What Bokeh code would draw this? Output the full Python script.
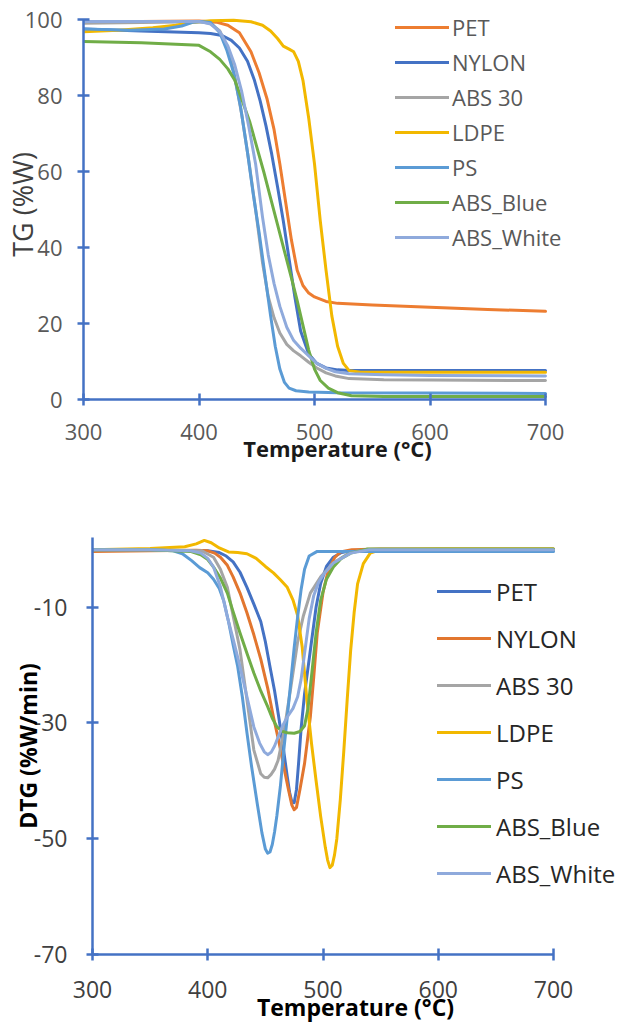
from bokeh.plotting import figure
from bokeh.models import Range1d, Legend, LegendItem, FixedTicker
from bokeh.layouts import column
from bokeh.embed import file_html
from bokeh.resources import INLINE

FONT = "Open Sans"

# ---------------- TG data ----------------
tg_names = ["PET", "NYLON", "ABS 30", "LDPE", "PS", "ABS_Blue", "ABS_White"]

tg_pet_t = [300, 350, 400, 415, 425, 435, 445, 452, 459, 465, 470, 475, 480, 485, 490, 495, 500, 510, 520, 550, 600, 650, 700]
tg_pet_v = [99.3, 99.5, 99.6, 99.3, 98.5, 96.5, 91.5, 86, 79, 71, 62, 52, 42, 34, 30, 28, 27, 25.8, 25.3, 24.9, 24.3, 23.7, 23.2]

tg_nylon_t = [300, 350, 400, 410, 420, 428, 435, 442, 448, 453, 458, 463, 468, 473, 478, 483, 488, 495, 502, 510, 520, 530, 550, 600, 700]
tg_nylon_v = [97.5, 97, 96.5, 96.3, 95.8, 94.5, 92.5, 89, 84, 78.5, 72, 64.5, 56, 47, 37, 27, 18, 12, 9.5, 8.3, 7.8, 7.6, 7.6, 7.6, 7.6]

tg_abs30_t = [300, 350, 400, 410, 418, 425, 431, 437, 443, 449, 455, 460, 465, 470, 476, 482, 488, 495, 502, 510, 518, 530, 560, 600, 700]
tg_abs30_v = [99.0, 99.2, 99.4, 99.0, 97, 92.5, 85, 75, 63, 50, 36, 27, 21.5, 17.5, 14.5, 12.8, 11.5, 9.8, 8.3, 7, 6.2, 5.5, 5.2, 5.1, 5.0]

tg_ldpe_t = [300, 330, 360, 380, 395, 410, 430, 445, 455, 462, 468, 473, 478, 482, 486, 490, 495, 500, 505, 510, 515, 520, 525, 530, 540, 600, 700]
tg_ldpe_v = [96.8, 97.2, 97.8, 98.5, 99.3, 99.7, 99.8, 99.4, 98.5, 97, 95, 93, 92.2, 91.5, 89, 84, 74, 62, 47, 34, 22, 14, 9.5, 7.6, 7.2, 7.2, 7.2]

tg_ps_t = [300, 340, 370, 385, 395, 402, 410, 418, 424, 430, 436, 442, 447, 452, 457, 462, 466, 470, 474, 478, 484, 495, 520, 600, 700]
tg_ps_v = [97.5, 97.2, 97.5, 98.3, 99.3, 99.5, 99.2, 96.5, 92, 86, 77, 65, 54, 44, 33, 22, 14, 8, 4.5, 3, 2.3, 2, 1.8, 1.7, 1.6]

tg_blue_t = [300, 350, 400, 410, 418, 425, 431, 437, 444, 450, 456, 462, 468, 474, 480, 485, 490, 495, 500, 505, 512, 520, 532, 560, 700]
tg_blue_v = [94.2, 93.9, 93.2, 91.5, 89.5, 87, 84, 79, 73, 66.5, 60, 53, 46, 39, 32, 26, 19.5, 13, 8, 5, 3, 1.8, 1.0, 0.8, 0.8]

tg_white_t = [300, 350, 400, 410, 418, 425, 431, 437, 443, 449, 455, 460, 465, 470, 476, 482, 488, 495, 502, 510, 518, 530, 560, 600, 700]
tg_white_v = [99.5, 99.5, 99.5, 98.8, 96.8, 93, 88, 81, 72, 62, 48, 38, 30.5, 24.5, 19, 15.5, 13.5, 11.5, 9.5, 8.2, 7.3, 6.8, 6.5, 6.3, 6.2]

tg_colors = ["#ED7D31", "#4472C4", "#A5A5A5", "#F2B800", "#5B9BD5", "#70AD47", "#8FAADC"]
tg_ticks_x = [300, 400, 500, 600, 700]
tg_ticks_y = [0, 20, 40, 60, 80, 100]

# ---------------- DTG data ----------------
dtg_names = ["PET", "NYLON", "ABS 30", "LDPE", "PS", "ABS_Blue", "ABS_White"]

dtg_pet_t = [300, 350, 400, 410, 416, 422, 428, 434, 440, 446, 450, 454, 458, 462, 466, 469, 471, 473, 475, 477, 479, 481, 484, 489, 494, 498, 503, 509, 516, 525, 550, 600, 700]
dtg_pet_v = [-0.2, -0.2, -0.3, -0.6, -1.2, -2.2, -4, -6.6, -9.5, -12.5, -16, -20.3, -24.5, -29.5, -35, -39.3, -42, -43.7, -43.8, -41.5, -36.5, -31, -25, -17.5, -10, -5.9, -3, -1.4, -0.6, -0.3, -0.2, -0.2, -0.2]

dtg_nylon_t = [300, 350, 390, 400, 406, 411, 417, 422, 428, 434, 440, 446, 452, 457, 462, 466, 470, 473, 475, 477, 480, 484, 489, 492, 495, 500, 504, 510, 515, 525, 550, 700]
dtg_nylon_v = [-0.4, -0.3, -0.2, -0.3, -0.7, -1.4, -2.8, -4.8, -7.6, -11, -14.8, -19, -24, -29, -33.5, -37.6, -41.5, -44.2, -45, -44.6, -41.5, -37, -29, -22, -14.5, -7.5, -4.1, -1.5, -0.5, -0.1, 0, 0]

dtg_abs30_t = [300, 350, 395, 405, 411, 417, 422, 428, 434, 440, 446, 449, 452, 455, 458, 461, 466, 472, 478, 483, 489, 498, 509, 524, 540, 700]
dtg_abs30_v = [-0.1, -0.1, -0.3, -1.4, -3.5, -6.6, -11.5, -17.4, -26, -34.7, -38.8, -39.4, -39.5, -38.9, -38, -36.5, -31.7, -24, -16, -11.5, -7.6, -4.8, -2.4, -0.5, -0.1, -0.1]

dtg_ldpe_t = [300, 350, 380, 390, 397, 403, 410, 418, 426, 434, 442, 450, 457, 463, 469, 474, 478, 482, 486, 490, 494, 498, 502, 504, 506, 508, 510, 512, 515, 518, 521, 524, 527, 530, 535, 541, 550, 600, 700]
dtg_ldpe_v = [-0.1, 0.1, 0.4, 0.9, 1.5, 1.1, 0.2, -0.5, -0.6, -0.8, -1.6, -3, -4.1, -5.3, -6.6, -8.8, -11.5, -17, -26, -33.5, -40, -46.2, -51.5, -53.7, -55, -54.6, -52.8, -50, -43.3, -35, -26, -17.5, -11, -6, -2.5, -0.7, -0.1, 0, 0]

dtg_ps_t = [300, 350, 370, 378, 386, 393, 400, 405, 410, 414, 418, 422, 426, 430, 434, 438, 443, 447, 450, 452, 454, 456, 458, 460, 463, 466, 469, 472, 475, 478, 481, 484, 488, 495, 510, 700]
dtg_ps_v = [-0.1, -0.1, -0.3, -0.8, -2, -3.2, -4.1, -5.2, -6.8, -9, -12.5, -16.5, -20.3, -25.5, -31.7, -37.5, -44, -49, -51.8, -52.5, -52.3, -51, -48.8, -46, -41, -34.7, -29, -23, -17, -11.7, -7, -3.5, -1.2, -0.4, -0.4, -0.4]

dtg_blue_t = [300, 350, 385, 394, 400, 405, 411, 417, 422, 428, 434, 440, 446, 452, 456, 460, 465, 469, 475, 480, 484, 487, 490, 494, 498, 503, 509, 516, 524, 538, 700]
dtg_blue_v = [-0.1, -0.1, -0.4, -1, -1.8, -3.1, -5, -7.6, -10.8, -14.5, -18, -21.4, -24.5, -27.2, -29.2, -30.7, -31.5, -31.7, -31.8, -31.5, -30.5, -27.5, -22, -14.5, -8.8, -5.2, -3.1, -1.6, -0.7, 0, 0]

dtg_white_t = [300, 350, 385, 394, 400, 405, 411, 417, 422, 428, 434, 440, 445, 449, 452, 455, 458, 461, 465, 469, 474, 478, 481, 484, 488, 492, 496, 500, 509, 524, 540, 700]
dtg_white_v = [-0.1, -0.1, -0.3, -0.7, -1.6, -3.1, -6.5, -11.7, -15.5, -20.3, -25.5, -30.7, -33.5, -35, -35.5, -35.1, -34, -32.5, -30.5, -29, -27.5, -25.5, -22.5, -18, -12, -8, -5.8, -4.5, -2.4, -0.7, -0.1, -0.1]

dtg_colors = ["#4472C4", "#E2762F", "#A5A5A5", "#F2B800", "#5B9BD5", "#70AD47", "#8FAADC"]
dtg_ticks_x = [300, 400, 500, 600, 700]
dtg_ticks_y = [-70, -50, -30, -10]
dtg_tick_labels_y = ["-70", "-50", "-30", "-10"]

AXIS_COLOR = "#4472C4"


def style_axes(p, tick_size, label_color, xstand, ystand):
    for ax in (p.xaxis[0], p.yaxis[0]):
        ax.axis_line_color = AXIS_COLOR
        ax.axis_line_width = 2.5
        ax.major_tick_line_color = AXIS_COLOR
        ax.major_tick_line_width = 2.5
        ax.major_tick_in = 6
        ax.major_tick_out = 6
        ax.minor_tick_line_color = None
        ax.major_label_text_font = FONT
        ax.major_label_text_font_size = tick_size
        ax.major_label_text_color = label_color
        ax.axis_label_text_font = FONT
    p.xaxis[0].major_label_standoff = xstand
    p.yaxis[0].major_label_standoff = ystand
    p.xgrid.grid_line_color = None
    p.ygrid.grid_line_color = None
    p.outline_line_color = None


# ---------------- top figure ----------------
# frame spans x 83..591 and y 9..399 on the page
p1 = figure(width=618, height=478, output_backend="svg", toolbar_location=None,
            x_range=Range1d(300, 300 + 508 / 1.155), y_range=Range1d(0, 100 + 10 / 3.8),
            min_border_left=83, min_border_right=27, min_border_top=9, min_border_bottom=79,
            frame_align=False)
p1.xaxis.ticker = FixedTicker(ticks=tg_ticks_x)
p1.yaxis.ticker = FixedTicker(ticks=tg_ticks_y)
p1.xaxis.bounds = (300, 700)
p1.yaxis.bounds = (0, 100)
style_axes(p1, "22px", "#595959", 18, 15)
p1.xaxis.axis_label = "Temperature (°C)"
p1.xaxis.axis_label_text_font_size = "22px"
p1.xaxis.axis_label_text_font_style = "bold"
p1.xaxis.axis_label_text_color = "#1a1a1a"
p1.xaxis.axis_label_standoff = -10
p1.yaxis.axis_label = "TG (%W)"
p1.yaxis.axis_label_text_font_size = "27px"
p1.yaxis.axis_label_text_font_style = "normal"
p1.yaxis.axis_label_text_color = "#404040"
p1.yaxis.axis_label_standoff = -19

tg_series = [(tg_pet_t, tg_pet_v), (tg_nylon_t, tg_nylon_v), (tg_abs30_t, tg_abs30_v),
             (tg_ldpe_t, tg_ldpe_v), (tg_ps_t, tg_ps_v), (tg_blue_t, tg_blue_v), (tg_white_t, tg_white_v)]
items1 = []
for name, (t, v), c in zip(tg_names, tg_series, tg_colors):
    r = p1.line(t, v, line_color=c, line_width=3, line_join="round", line_cap="round")
    items1.append(LegendItem(label=name, renderers=[r]))

leg1 = Legend(items=items1, location=(312, 147), padding=0, margin=0, spacing=5,
              glyph_height=30, glyph_width=54, label_height=30, label_standoff=3,
              label_text_font=FONT, label_text_font_size="22px", label_text_color="#595959",
              background_fill_alpha=0, border_line_alpha=0)
p1.add_layout(leg1)

# ---------------- bottom figure ----------------
p2 = figure(width=618, height=547, output_backend="svg", toolbar_location=None,
            x_range=Range1d(300, 300 + 526 / 1.1525), y_range=Range1d(-70, 2),
            min_border_left=92, min_border_right=0, min_border_top=59, min_border_bottom=71,
            frame_align=False)
p2.xaxis.ticker = FixedTicker(ticks=dtg_ticks_x)
p2.yaxis.ticker = FixedTicker(ticks=dtg_ticks_y)
p2.yaxis.major_label_overrides = dict(zip(dtg_ticks_y, dtg_tick_labels_y))
p2.xaxis.bounds = (300, 700)
style_axes(p2, "23px", "#404040", 20, 19)
p2.xaxis.axis_label = "Temperature (°C)"
p2.xaxis.axis_label_text_font_size = "23px"
p2.xaxis.axis_label_text_font_style = "bold"
p2.xaxis.axis_label_text_color = "#000000"
p2.xaxis.axis_label_standoff = -10
p2.yaxis.axis_label = "DTG (%W/min)"
p2.yaxis.axis_label_text_font_size = "23px"
p2.yaxis.axis_label_text_font_style = "bold"
p2.yaxis.axis_label_text_color = "#000000"
p2.yaxis.axis_label_standoff = -13

dtg_series = [(dtg_pet_t, dtg_pet_v), (dtg_nylon_t, dtg_nylon_v), (dtg_abs30_t, dtg_abs30_v),
              (dtg_ldpe_t, dtg_ldpe_v), (dtg_ps_t, dtg_ps_v), (dtg_blue_t, dtg_blue_v), (dtg_white_t, dtg_white_v)]
items2 = []
for name, (t, v), c in zip(dtg_names, dtg_series, dtg_colors):
    r = p2.line(t, v, line_color=c, line_width=3, line_join="round", line_cap="round")
    items2.append(LegendItem(label=name, renderers=[r]))

leg2 = Legend(items=items2, location=(345, 64), padding=0, margin=0, spacing=13,
              glyph_height=34, glyph_width=54, label_height=34, label_standoff=5,
              label_text_font=FONT, label_text_font_size="24px", label_text_color="#262626",
              background_fill_alpha=0, border_line_alpha=0)
p2.add_layout(leg2)

layout = column(p1, p2, spacing=0)
open("out.html", "w").write(file_html(layout, INLINE))
